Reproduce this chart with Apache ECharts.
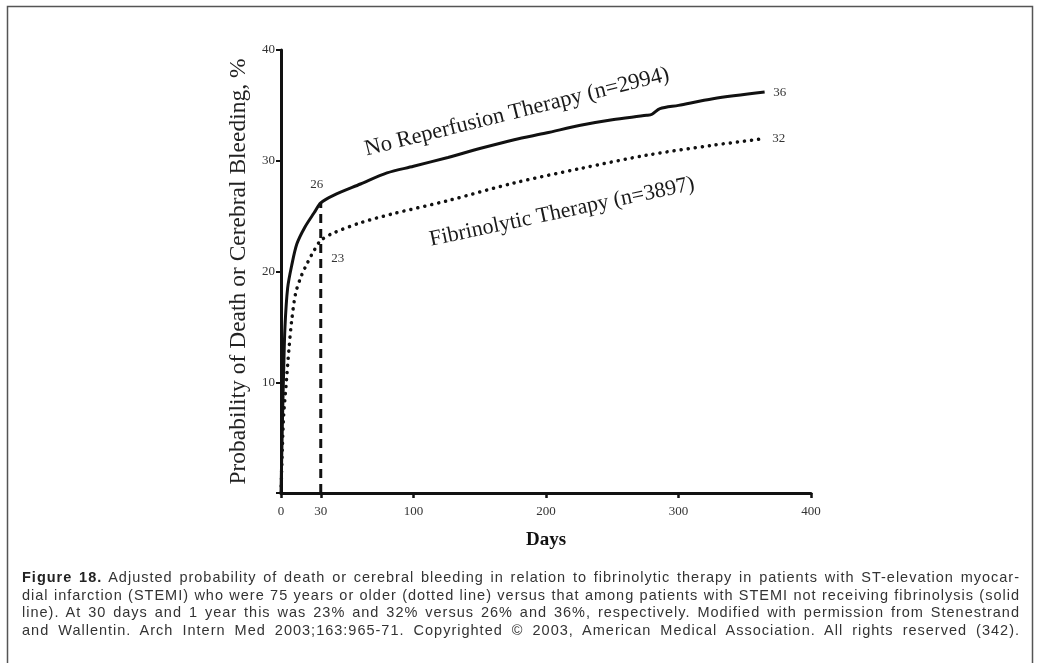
<!DOCTYPE html>
<html>
<head>
<meta charset="utf-8">
<script src="https://cdn.jsdelivr.net/npm/echarts@6/dist/echarts.min.js"></script>
<style>
  html, body { margin: 0; padding: 0; background: #fff; }
  #wrap { position: relative; width: 1040px; height: 663px; }
  #chart { width: 1040px; height: 663px; }
  #caption {
    position: absolute; left: 22px; top: 569px; width: 998px;
    font-family: "Liberation Sans", Arial, sans-serif; font-size: 14.5px;
    letter-spacing: 1px; color: #333; line-height: 17.5px;
  }
  #caption div { text-align: justify; text-align-last: justify; white-space: nowrap; }
  #caption b { color: #222; }
</style>
</head>
<body>
<div id="wrap">
  <div id="chart"></div>
  <div id="caption"></div>
</div>
<script>
// days since admission / probability of death or cerebral bleeding (%)
var noReperfusion = [
  [0, 0], [1, 6], [2, 11], [3, 15], [5, 18.5], [8, 20.5], [12, 22.5], [18, 24],
  [25, 25.3], [30, 26.2], [40, 26.9], [60, 27.9], [80, 28.9], [100, 29.5],
  [126, 30.3], [150, 31.1], [176, 31.9], [200, 32.5], [226, 33.2], [250, 33.7],
  [276, 34.1], [280, 34.2], [286, 34.7], [300, 35.0], [326, 35.6], [365, 36.2]
];
var fibrinolytic = [
  [0, 0], [1, 4], [2, 7], [4, 10], [6, 13], [8, 15.5], [11, 18], [15, 19.5],
  [20, 20.8], [25, 21.9], [30, 22.8], [40, 23.5], [60, 24.4], [84, 25.2],
  [126, 26.4], [176, 28.0], [226, 29.3], [276, 30.5], [326, 31.4], [365, 32.0]
];
var day30Line = [[30, 0], [30, 26.2]];
var xTicks = [0, 30, 100, 200, 300, 400];

var captionLines = [
  '<b>Figure 18.</b> Adjusted probability of death or cerebral bleeding in relation to fibrinolytic therapy in patients with ST-elevation myocar-',
  'dial infarction (STEMI) who were 75 years or older (dotted line) versus that among patients with STEMI not receiving fibrinolysis (solid',
  'line). At 30 days and 1 year this was 23% and 32% versus 26% and 36%, respectively. Modified with permission from Stenestrand',
  'and Wallentin. Arch Intern Med 2003;163:965-71. Copyrighted \u00a9 2003, American Medical Association. All rights reserved (342).'
];
document.getElementById('caption').innerHTML = captionLines.map(function (l) {
  return '<div>' + l + '</div>';
}).join('');

var serif = '"Liberation Serif", "DejaVu Serif", serif';
var chart = echarts.init(document.getElementById('chart'));

var endLabel = { show: true, fontFamily: serif, fontSize: 13, color: '#333' };

chart.setOption({
  animation: false,
  backgroundColor: '#fff',
  grid: { left: 281, right: 229, top: 50, bottom: 170 },
  xAxis: {
    type: 'value', min: 0, max: 400,
    name: 'Days', nameLocation: 'middle', nameGap: 38,
    nameTextStyle: { fontFamily: serif, fontWeight: 'bold', fontSize: 19, color: '#111' },
    axisLine: { lineStyle: { color: '#111', width: 3 } },
    axisTick: { customValues: xTicks, length: 5, lineStyle: { color: '#111', width: 2.5 } },
    axisLabel: { customValues: xTicks, fontFamily: serif, fontSize: 13, color: '#333', margin: 12 },
    splitLine: { show: false }
  },
  yAxis: {
    type: 'value', min: 0, max: 40, interval: 10,
    name: 'Probability of Death or Cerebral Bleeding, %', nameLocation: 'middle', nameGap: 28,
    nameTextStyle: { fontFamily: serif, fontSize: 23.5, color: '#222' },
    axisLine: { show: true, lineStyle: { color: '#111', width: 3 } },
    axisTick: { show: true, length: 5, lineStyle: { color: '#111', width: 2 } },
    axisLabel: {
      fontFamily: serif, fontSize: 13, color: '#333', margin: 6,
      formatter: function (v) { return v === 0 ? '' : v; }
    },
    splitLine: { show: false }
  },
  series: [
    {
      name: 'No Reperfusion Therapy', type: 'line', data: noReperfusion,
      showSymbol: false, smooth: 0.3,
      lineStyle: { color: '#111', width: 3 },
      markPoint: {
        symbol: 'circle', symbolSize: 1, silent: true,
        itemStyle: { color: 'rgba(0,0,0,0)' },
        label: endLabel,
        data: [
          { coord: [30, 26.2], value: 26, label: { position: 'top', offset: [-4, -6] } },
          { coord: [365, 36.2], value: 36, label: { position: 'right', offset: [3, 0] } }
        ]
      }
    },
    {
      name: 'Fibrinolytic Therapy', type: 'line', data: fibrinolytic,
      showSymbol: false, smooth: 0.3,
      lineStyle: { color: '#111', width: 3.5, type: [0.1, 7], cap: 'round' },
      markPoint: {
        symbol: 'circle', symbolSize: 1, silent: true,
        itemStyle: { color: 'rgba(0,0,0,0)' },
        label: endLabel,
        data: [
          { coord: [30, 22.8], value: 23, label: { position: 'right', offset: [5, 18] } },
          { coord: [365, 32], value: 32, label: { position: 'right', offset: [2, 0] } }
        ]
      }
    },
    {
      name: '30 days', type: 'line', data: day30Line, showSymbol: false, z: 1,
      lineStyle: { color: '#111', width: 3, type: [9, 6] }
    }
  ],
  graphic: [
    {
      type: 'rect', shape: { x: 7.5, y: 6.5, width: 1025, height: 700 },
      style: { fill: 'none', stroke: '#555', lineWidth: 1.5 }, z: -1
    },
    {
      type: 'text', x: 517, y: 112, rotation: 14 * Math.PI / 180,
      style: { text: 'No Reperfusion Therapy (n=2994)', font: '22.5px ' + serif, fill: '#1a1a1a', align: 'center', verticalAlign: 'middle' }
    },
    {
      type: 'text', x: 562, y: 212, rotation: 12 * Math.PI / 180,
      style: { text: 'Fibrinolytic Therapy (n=3897)', font: '22px ' + serif, fill: '#1a1a1a', align: 'center', verticalAlign: 'middle' }
    }
  ]
});
</script>
</body>
</html>
